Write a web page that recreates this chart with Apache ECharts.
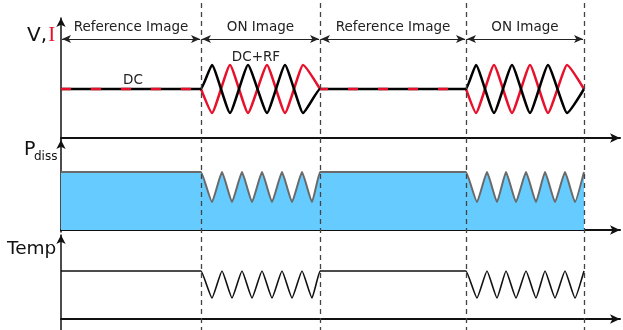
<!DOCTYPE html>
<html><head><meta charset="utf-8">
<script src="https://cdn.jsdelivr.net/npm/echarts@6/dist/echarts.min.js"></script>
<style>html,body{margin:0;padding:0;background:#fff}#c{width:623px;height:330px}</style>
</head><body><div id="c"></div>
<script>
// ---- data (x in time units along the shared time axis) ----
const phaseBounds = [0, 140, 259, 405, 523];
const phaseLabels = ['Reference Image', 'ON Image', 'Reference Image', 'ON Image'];
const dcLevel = 49;
const onX1 = [140, 151, 169, 187, 206, 224, 242, 259];
const onX2 = [405, 415, 433, 451, 469, 487, 506, 523];
const vOn = [49, 73, 25, 73, 25, 73, 25, 49];
const iOn = [49, 25, 73, 25, 73, 25, 73, 49];
const pdX1 = [140, 151, 161, 171, 181, 191, 201, 211, 221, 231, 241, 251, 259];
const pdX2 = [405, 416, 426, 436, 445, 455, 465, 475, 484, 494, 504, 514, 523];
const pdissOn = [58, 28, 58, 28, 58, 28, 58, 28, 58, 28, 58, 28, 58];
const pdissLevel = 58;
const tempOn = [48, 21, 48, 21, 48, 21, 48, 21, 48, 21, 48, 21, 48];
const tempLevel = 48;

const zip = (xs, ys) => xs.map((x, i) => [x, ys[i]]);
const vData = [[0, dcLevel]].concat(zip(onX1, vOn), zip(onX2, vOn));
const iWave = zip(onX1, iOn).concat([[onX1[onX1.length - 1] + 1, null]], zip(onX2, iOn));
const pData = [[0, pdissLevel]].concat(zip(pdX1, pdissOn), zip(pdX2, pdissOn));
const tData = [[0, tempLevel]].concat(zip(pdX1, tempOn), zip(pdX2, tempOn));

const chart = echarts.init(document.getElementById('c'), null, {renderer: 'canvas'});
const FONT = 'DejaVu Sans';
const SM = 0.14;
const xAxisBase = (gi) => ({
  type: 'value', gridIndex: gi, min: 0, max: 559,
  axisLine: {show: true, onZero: true, symbol: ['none', 'arrow'], symbolSize: [7, 10],
             lineStyle: {color: '#111', width: 2}},
  axisTick: {show: false}, axisLabel: {show: false}, splitLine: {show: false}
});
const yAxisBase = (gi, mn, mx) => ({
  type: 'value', gridIndex: gi, min: mn, max: mx,
  axisLine: {show: true, symbol: ['none', 'arrow'], symbolSize: [7, 9],
             lineStyle: {color: '#111', width: 1.5}},
  axisTick: {show: false}, axisLabel: {show: false}, splitLine: {show: false}
});

const option = {
  animation: false,
  backgroundColor: '#fff',
  grid: [
    {left: 61, width: 559, top: 18, height: 122},
    {left: 61, width: 559, top: 140, height: 92},
    {left: 61, width: 559, top: 235, height: 95},
    {left: 61, width: 559, top: 3, height: 327}
  ],
  xAxis: [xAxisBase(0), xAxisBase(1), xAxisBase(2),
    {type: 'value', gridIndex: 3, min: 0, max: 559, show: false}],
  yAxis: [yAxisBase(0, -2, 120), yAxisBase(1, -2, 90), yAxisBase(2, -11, 84),
    {type: 'value', gridIndex: 3, min: 3, max: 330, inverse: true, show: false}],
  graphic: [
    {type: 'text', left: 27, top: 25, style: {text: '{v|V,}{s| }{i|I}', rich: {
      v: {fontFamily: FONT, fontSize: 20, fill: '#111'},
      s: {fontFamily: FONT, fontSize: 4},
      i: {fontFamily: 'Liberation Serif', fontSize: 21, fill: '#e8102a'}}}},
    {type: 'text', left: 24, top: 141, style: {text: 'P', fontFamily: FONT, fontSize: 19, fill: '#111'}},
    {type: 'text', left: 34, top: 151, style: {text: 'diss', fontFamily: FONT, fontSize: 12, fill: '#111'}},
    {type: 'text', left: 7, top: 240, style: {text: 'Temp', fontFamily: FONT, fontSize: 18.5, fill: '#111'}}
  ],
  series: [
    {type: 'line', xAxisIndex: 0, yAxisIndex: 0, data: iWave, showSymbol: false, connectNulls: false,
     smooth: SM, smoothMonotone: 'x', lineStyle: {color: '#e8102a', width: 2.5}, z: 2},
    {type: 'line', xAxisIndex: 0, yAxisIndex: 0, data: vData, showSymbol: false,
     smooth: SM, smoothMonotone: 'x', lineStyle: {color: '#000', width: 2.5}, z: 3},
    {type: 'line', xAxisIndex: 0, yAxisIndex: 0, data: [[phaseBounds[0], dcLevel], [phaseBounds[1], dcLevel]],
     showSymbol: false, lineStyle: {color: '#e8102a', width: 2.5, type: [10, 20], dashOffset: 0, cap: 'butt'}, z: 4},
    {type: 'line', xAxisIndex: 0, yAxisIndex: 0, data: [[phaseBounds[2], dcLevel], [phaseBounds[3], dcLevel]],
     showSymbol: false, lineStyle: {color: '#e8102a', width: 2.5, type: [10, 20], dashOffset: 2, cap: 'butt'}, z: 4},
    {type: 'line', xAxisIndex: 1, yAxisIndex: 1, data: pData, showSymbol: false,
     smooth: SM, smoothMonotone: 'x',
     lineStyle: {color: '#6a6a6a', width: 2}, areaStyle: {color: '#66ccff', opacity: 1, origin: 'auto'}, z: 2},
    {type: 'line', xAxisIndex: 2, yAxisIndex: 2, data: tData, showSymbol: false,
     smooth: SM, smoothMonotone: 'x', lineStyle: {color: '#111', width: 1.6}, z: 2},
    {type: 'line', xAxisIndex: 3, yAxisIndex: 3, data: [], z: 10,
     markLine: {silent: true, symbol: ['none', 'none'], label: {show: false},
       lineStyle: {color: '#444', width: 1.3, type: [5, 4]},
       data: phaseBounds.slice(1).map(x => ({xAxis: x}))}},
    {type: 'line', xAxisIndex: 3, yAxisIndex: 3, data: [], z: 10,
     markLine: {silent: true, symbol: ['arrow', 'arrow'], symbolSize: [6, 9], label: {show: false},
       lineStyle: {color: '#222', width: 1, type: 'solid'},
       data: phaseLabels.map((t, k) => [{coord: [phaseBounds[k] + 1, 39]}, {coord: [phaseBounds[k + 1] - 1, 39]}])},
     markPoint: {silent: true, symbol: 'circle', symbolSize: 0,
       label: {show: true, position: 'inside', fontFamily: FONT, fontSize: 13.5, color: '#222',
               formatter: p => p.name},
       data: phaseLabels.map((t, k) => ({name: t, coord: [(phaseBounds[k] + phaseBounds[k + 1]) / 2, 27]}))
         .concat([{name: 'DC', coord: [72, 80]}, {name: 'DC+RF', coord: [195, 57]}])}}
  ]
};
chart.setOption(option);
</script></body></html>
